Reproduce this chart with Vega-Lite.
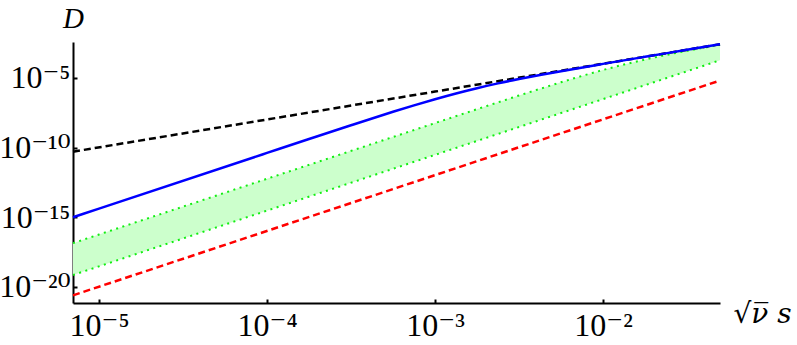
{
  "$schema": "https://vega.github.io/schema/vega-lite/v6.json",
  "width": 647,
  "height": 261,
  "autosize": {"type": "none"},
  "padding": {"left": 73, "top": 42, "right": 77, "bottom": 42},
  "background": "white",
  "config": {
    "view": {"stroke": null},
    "axis": {
      "grid": false,
      "domainColor": "black",
      "domainWidth": 2,
      "tickColor": "black",
      "tickWidth": 2,
      "tickSize": -4,
      "labelFont": "Liberation Serif, DejaVu Serif",
      "labelFontSize": 32,
      "labelColor": "black",
      "titleFont": "Liberation Serif, DejaVu Serif",
      "titleColor": "black",
      "titleFontWeight": "normal",
      "titleFontStyle": "italic"
    }
  },
  "datasets": {
    "band": [
      {"x": 7.0e-6, "lo": 7.244e-20, "hi": 1.396e-17},
      {"x": 1e-5, "lo": 3.020e-19, "hi": 5.821e-17},
      {"x": 1e-4, "lo": 3.020e-15, "hi": 5.821e-13},
      {"x": 1e-3, "lo": 3.020e-11, "hi": 5.781e-9},
      {"x": 1.778e-3, "lo": 3.020e-10, "hi": 5.715e-8},
      {"x": 3.162e-3, "lo": 3.020e-9, "hi": 5.508e-7},
      {"x": 5.623e-3, "lo": 3.020e-8, "hi": 4.943e-6},
      {"x": 7.499e-3, "lo": 9.550e-8, "hi": 1.403e-5},
      {"x": 1e-2, "lo": 3.020e-7, "hi": 3.741e-5},
      {"x": 1.334e-2, "lo": 9.550e-7, "hi": 9.247e-5},
      {"x": 1.778e-2, "lo": 3.020e-6, "hi": 2.109e-4},
      {"x": 2.371e-2, "lo": 9.550e-6, "hi": 4.457e-4},
      {"x": 3.162e-2, "lo": 3.020e-5, "hi": 8.872e-4},
      {"x": 3.981e-2, "lo": 7.586e-5, "hi": 1.489e-3},
      {"x": 0.0497, "lo": 1.888e-4, "hi": 2.443e-3}
    ],
    "curves": [
      {"s": "red", "x": 7.0e-6, "y": 2.512e-21},
      {"s": "red", "x": 0.0497, "y": 6.546e-6},
      {"s": "black", "x": 7.0e-6, "y": 5.129e-11},
      {"s": "black", "x": 1e-4, "y": 1.047e-8},
      {"s": "black", "x": 1e-3, "y": 1.047e-6},
      {"s": "black", "x": 1e-2, "y": 1.047e-4},
      {"s": "black", "x": 0.0497, "y": 2.618e-3},
      {"s": "blue", "x": 7.0e-6, "y": 1.0e-15},
      {"s": "blue", "x": 1e-5, "y": 4.188e-15},
      {"s": "blue", "x": 1e-4, "y": 4.169e-11},
      {"s": "blue", "x": 1.778e-4, "y": 4.140e-10},
      {"s": "blue", "x": 3.162e-4, "y": 4.027e-9},
      {"s": "blue", "x": 5.623e-4, "y": 3.715e-8},
      {"s": "blue", "x": 7.499e-4, "y": 1.081e-7},
      {"s": "blue", "x": 1e-3, "y": 2.992e-7},
      {"s": "blue", "x": 1.334e-3, "y": 7.745e-7},
      {"s": "blue", "x": 1.778e-3, "y": 1.849e-6},
      {"s": "blue", "x": 2.371e-3, "y": 4.074e-6},
      {"s": "blue", "x": 3.162e-3, "y": 8.375e-6},
      {"s": "blue", "x": 4.217e-3, "y": 1.633e-5},
      {"s": "blue", "x": 5.623e-3, "y": 3.069e-5},
      {"s": "blue", "x": 1e-2, "y": 1.021e-4},
      {"s": "blue", "x": 1.778e-2, "y": 3.289e-4},
      {"s": "blue", "x": 3.162e-2, "y": 1.045e-3},
      {"s": "blue", "x": 0.0497, "y": 2.618e-3}
    ]
  },
  "encoding": {
    "x": {
      "field": "x",
      "type": "quantitative",
      "scale": {"type": "log", "domain": [7.0e-6, 0.0497], "nice": false},
      "axis": {
        "values": [1e-5, 1e-4, 1e-3, 1e-2],
        "labelExpr": "['10⁻⁵','10⁻⁴','10⁻³','10⁻²'][round(log(datum.value)/LN10)+5]",
        "labelPadding": 11,
        "labelFlush": false,
        "labelOverlap": false,
        "title": "√ν̅ s",
        "titleFont": "DejaVu Serif",
        "titleFontSize": 28,
        "titleX": 660,
        "titleY": 19,
        "titleAlign": "left",
        "titleBaseline": "alphabetic",
        "titleAnchor": null
      }
    }
  },
  "layer": [
    {
      "data": {"name": "band"},
      "mark": {"type": "area", "color": "#ccffcc", "opacity": 1},
      "encoding": {
        "y": {
          "field": "hi",
          "type": "quantitative",
          "scale": {"type": "log", "domain": [7.08e-22, 3.8e-3], "nice": false},
          "axis": {
            "values": [1e-20, 1e-15, 1e-10, 1e-5],
            "labelExpr": "'10' + (datum.value < 1e-17 ? '⁻²⁰' : datum.value < 1e-12 ? '⁻¹⁵' : datum.value < 1e-7 ? '⁻¹⁰' : '⁻⁵')",
            "labelPadding": 7,
            "labelFlush": false,
            "labelOverlap": false,
            "title": "D",
            "titleFontSize": 29,
            "titleAngle": 0,
            "titleX": 0,
            "titleY": -15,
            "titleAlign": "center",
            "titleBaseline": "alphabetic",
            "titleAnchor": null
          }
        },
        "y2": {"field": "lo"}
      }
    },
    {
      "data": {"name": "band"},
      "mark": {"type": "line", "color": "#11ee11", "strokeWidth": 2, "strokeDash": [2, 4.5], "strokeCap": "butt"},
      "encoding": {
        "y": {"field": "hi", "type": "quantitative", "scale": {"type": "log", "domain": [7.08e-22, 3.8e-3], "nice": false}}
      }
    },
    {
      "data": {"name": "band"},
      "mark": {"type": "line", "color": "#11ee11", "strokeWidth": 2, "strokeDash": [2, 4.5], "strokeCap": "butt"},
      "encoding": {
        "y": {"field": "lo", "type": "quantitative", "scale": {"type": "log", "domain": [7.08e-22, 3.8e-3], "nice": false}}
      }
    },
    {
      "data": {"name": "curves"},
      "transform": [{"filter": "datum.s === 'red'"}],
      "mark": {"type": "line", "color": "#ff0000", "strokeWidth": 2.5, "strokeDash": [7, 4]},
      "encoding": {
        "y": {"field": "y", "type": "quantitative", "scale": {"type": "log", "domain": [7.08e-22, 3.8e-3], "nice": false}}
      }
    },
    {
      "data": {"name": "curves"},
      "transform": [{"filter": "datum.s === 'black'"}],
      "mark": {"type": "line", "color": "#000000", "strokeWidth": 2.5, "strokeDash": [7, 4]},
      "encoding": {
        "y": {"field": "y", "type": "quantitative", "scale": {"type": "log", "domain": [7.08e-22, 3.8e-3], "nice": false}}
      }
    },
    {
      "data": {"name": "curves"},
      "transform": [{"filter": "datum.s === 'blue'"}],
      "mark": {"type": "line", "color": "#0000ff", "strokeWidth": 2.5, "interpolate": "monotone"},
      "encoding": {
        "y": {"field": "y", "type": "quantitative", "scale": {"type": "log", "domain": [7.08e-22, 3.8e-3], "nice": false}}
      }
    }
  ]
}
